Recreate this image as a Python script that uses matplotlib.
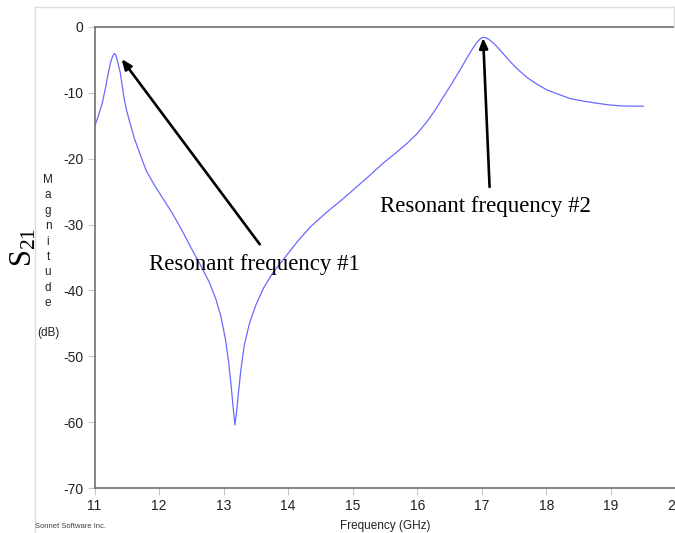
import matplotlib
matplotlib.use("Agg")
import matplotlib.pyplot as plt
from matplotlib.lines import Line2D

plt.rcParams["mathtext.fontset"] = "custom"
plt.rcParams["mathtext.rm"] = "Liberation Serif"

# Measured S21 response of the filter
freq_ghz = [11.00, 11.06, 11.12, 11.17, 11.21, 11.25, 11.28, 11.31, 11.33, 11.36,
            11.40, 11.43, 11.46, 11.50, 11.55, 11.62, 11.70, 11.80, 11.92, 12.05,
            12.20, 12.35, 12.50, 12.65, 12.78, 12.88, 12.96, 13.03, 13.08, 13.12,
            13.15, 13.175, 13.20, 13.23, 13.27, 13.32, 13.40, 13.50, 13.62, 13.77,
            13.95, 14.15, 14.35, 14.60, 14.85, 15.06, 15.27, 15.47, 15.66, 15.84,
            16.00, 16.15, 16.28, 16.40, 16.53, 16.66, 16.76, 16.84, 16.92, 16.98,
            17.02, 17.07, 17.12, 17.18, 17.25, 17.35, 17.44, 17.56, 17.70, 17.85,
            18.01, 18.20, 18.37, 18.58, 18.78, 18.96, 19.14, 19.32, 19.50]
s21_db = [-15.2, -13.5, -11.6, -9.3, -7.2, -5.4, -4.5, -4.05, -4.3, -5.4,
          -7.0, -9.0, -11.0, -12.8, -14.6, -17.0, -19.2, -21.8, -23.9, -25.9,
          -28.2, -30.8, -33.6, -36.3, -38.8, -41.3, -44.0, -47.5, -51.0, -54.8,
          -58.0, -60.4, -58.5, -55.5, -51.8, -48.3, -45.0, -42.2, -39.6, -37.2,
          -35.0, -32.5, -30.3, -28.1, -26.1, -24.3, -22.5, -20.7, -19.2, -17.7,
          -16.2, -14.4, -12.6, -10.7, -8.7, -6.6, -4.9, -3.6, -2.4, -1.8,
          -1.6, -1.7, -2.0, -2.5, -3.2, -4.3, -5.3, -6.5, -7.7, -8.7,
          -9.6, -10.3, -10.9, -11.3, -11.6, -11.85, -12.0, -12.05, -12.05]

x_ticks = [11, 12, 13, 14, 15, 16, 17, 18, 19, 20]
y_ticks = [0, -10, -20, -30, -40, -50, -60, -70]

# Annotations: (label, arrow head, arrow tail, text anchor)
notes = [
    ("Resonant frequency #1", (11.42, -4.9), (13.56, -33.0), (11.85, -36.1)),
    ("Resonant frequency #2", (17.02, -1.7), (17.12, -24.3), (15.42, -27.2)),
]

fig = plt.figure(figsize=(6.75, 5.33), dpi=100)
ax = fig.add_axes([94.5 / 675, 44.7 / 533, 581 / 675, 461.6 / 533])

ax.plot(freq_ghz, s21_db, color="#6a6aff", lw=0.9)

ax.set_xlim(11, 20)
ax.set_ylim(-70, 0)
ax.set_xticks(x_ticks)
ax.set_yticks(y_ticks)
ax.set_xticklabels([str(t) for t in x_ticks])
ax.set_yticklabels([str(t) for t in y_ticks])

for side in ("left", "top", "bottom"):
    ax.spines[side].set_color("#707070")
    ax.spines[side].set_linewidth(1.2)
ax.spines["right"].set_visible(False)
ax.tick_params(direction="out", length=5, width=0.8, color="#c8c8c8",
               labelsize=10, labelcolor="#222222", pad=3)
for lab in ax.get_xticklabels() + ax.get_yticklabels():
    lab.set_fontfamily("Liberation Sans")

ax.set_xlabel("Frequency (GHz)", fontsize=8.5, family="Liberation Sans",
              color="#222222", labelpad=5)

for text, head, tail, pos in notes:
    ax.annotate("", xy=head, xytext=tail,
                arrowprops=dict(arrowstyle="-|>,head_length=0.6,head_width=0.25",
                                color="black", lw=1.9, shrinkA=0, shrinkB=0))
    ax.text(pos[0], pos[1], text, family="Liberation Serif", fontsize=16.5,
            color="black", va="center", ha="left")

# Outer light frame
frame_kw = dict(color="#dcdcdc", lw=1.0, transform=fig.transFigure)
fig.add_artist(Line2D([35 / 675, 35 / 675], [0, 1 - 7 / 533], **frame_kw))
fig.add_artist(Line2D([35 / 675, 674 / 675], [1 - 7 / 533, 1 - 7 / 533], **frame_kw))
fig.add_artist(Line2D([674 / 675, 674 / 675], [1 - 7 / 533, 1 - 27 / 533], **frame_kw))

# Y-axis caption: S21 and stacked "Magnitude (dB)"
fig.text(24 / 675, 1 - 247 / 533, r"$\mathregular{S_{21}}$", rotation=90,
         fontsize=22, family="Liberation Serif", ha="center", va="center")
word = "Magnitude"
for i, ch in enumerate(word):
    fig.text(48 / 675, 1 - (180 + i * 15.4) / 533, ch, fontsize=8.5,
             family="Liberation Sans", ha="center", va="center", color="#222222")
fig.text(48 / 675, 1 - 333 / 533, "(dB)", fontsize=8.5, family="Liberation Sans",
         ha="center", va="center", color="#222222")

fig.text(35 / 675, 1 - 527 / 533, "Sonnet Software Inc.", fontsize=5.5,
         family="Liberation Sans", ha="left", va="center", color="#444444")

fig.savefig("out.png", dpi=100)
